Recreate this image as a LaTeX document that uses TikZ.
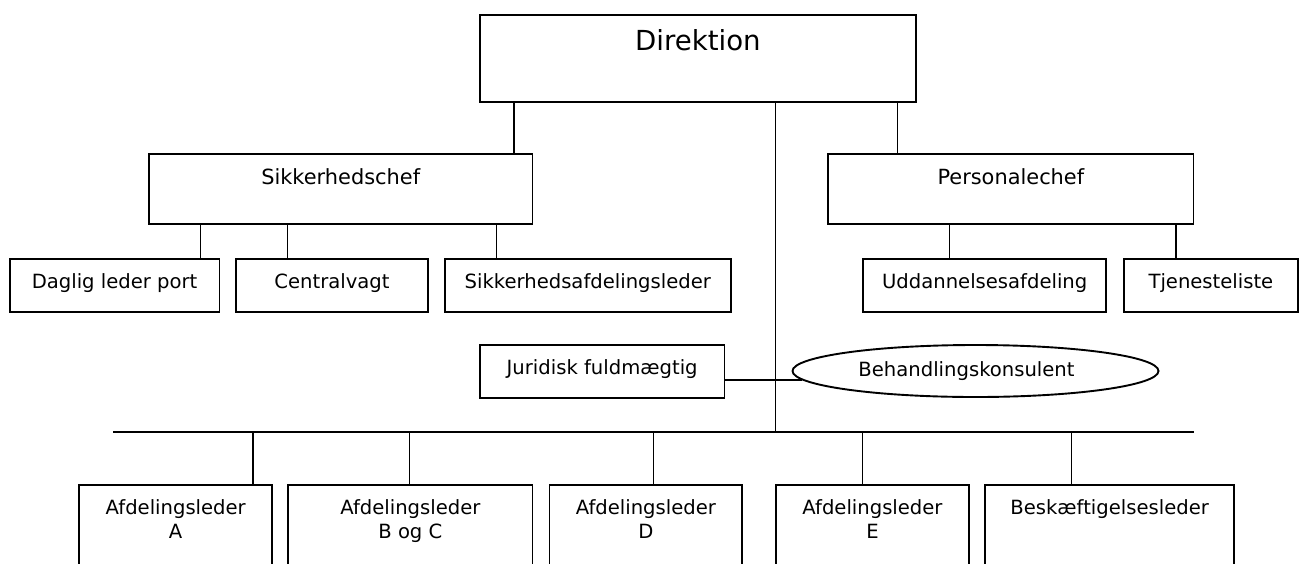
\documentclass[tikz,border=0pt]{standalone}
\usepackage{fontspec}
\setmainfont{DejaVu Sans}
\usetikzlibrary{shapes.geometric}
\newcommand{\twolines}[2]{\begin{tabular}[t]{@{}c@{}}#1\\#2\end{tabular}}

\begin{document}
\begin{tikzpicture}[x=1pt, y=-1pt,
  box/.style={draw, line width=1.9pt, inner sep=0pt, anchor=north west,
    font=\fontsize{19.6pt}{24.5pt}\selectfont, text height=29.6pt, text depth=23.4pt},
  top/.style={box, font=\fontsize{27.6pt}{33pt}\selectfont, text height=36pt, text depth=51pt},
  chief/.style={box, font=\fontsize{20.9pt}{26pt}\selectfont, text height=30pt, text depth=40pt},
  dept/.style={box, text depth=100pt},
  link/.style={line width=1.4pt},
  bus/.style={line width=2pt}]
  \useasboundingbox (0,0) rectangle (1301,563);

  \node [top, minimum width=436pt] (dir) at (479,14) {Direktion};
  \node [chief, minimum width=383.5pt] (sik) at (148,153.3) {Sikkerhedschef};
  \node [chief, minimum width=365.2pt] (pers) at (827.3,153.3) {Personalechef};

  \node [box, minimum width=209.8pt] (dlp) at (8.7,257.7) {Daglig leder port};
  \node [box, minimum width=191.9pt] (cv) at (235.1,257.7) {Centralvagt};
  \node [box, minimum width=285.7pt] (saf) at (444,257.7) {Sikkerhedsafdelingsleder};
  \node [box, minimum width=243.3pt] (udd) at (862.1,257.7) {Uddannelsesafdeling};
  \node [box, minimum width=173.5pt] (tjl) at (1123.2,257.7) {Tjenesteliste};

  \node [box, minimum width=244.6pt, text height=29pt, text depth=23.7pt] (jur) at (478.9,344.3) {Juridisk fuldmægtig};
  \node [draw, ellipse, line width=1.9pt, inner sep=0pt, minimum width=366pt, minimum height=52pt,
    font=\fontsize{19.6pt}{24.5pt}\selectfont] (beh) at (975.5,371) {Behandlingskonsulent\hspace*{18pt}};

  \node [dept, minimum width=192.7pt] (afa) at (78.4,483.7) {\twolines{Afdelingsleder}{A}};
  \node [dept, minimum width=244.2pt] (afbc) at (287.3,483.7) {\twolines{Afdelingsleder}{B og C}};
  \node [dept, minimum width=192.8pt] (afd) at (548.5,483.7) {\twolines{Afdelingsleder}{D}};
  \node [dept, minimum width=192.2pt] (afe) at (775.4,483.7) {\twolines{Afdelingsleder}{E}};
  \node [dept, minimum width=249pt] (besk) at (984.2,483.7) {Beskæftigelsesleder};

  % Direktion
  \draw [link] (dir.south -| 514.1,0) -- (sik.north -| 514.1,0);
  \draw [link] (dir.south -| 897.4,0) -- (pers.north -| 897.4,0);
  \coordinate (hub) at (775.4,431.7);
  \draw [link] (dir.south -| hub) -- (hub);

  % Sikkerhedschef and Personalechef
  \draw [link] (sik.south -| 200.7,0) -- (dlp.north -| 200.7,0);
  \draw [link] (sik.south -| 287.3,0) -- (cv.north -| 287.3,0);
  \draw [link] (sik.south -| 496.7,0) -- (saf.north -| 496.7,0);
  \draw [link] (pers.south -| 949.3,0) -- (udd.north -| 949.3,0);
  \draw [link] (pers.south -| 1176,0) -- (tjl.north -| 1176,0);

  \draw [link] (beh.183) -- (beh.183 -| jur.east);

  % bus to the departments
  \coordinate (busl) at (113.2,431.7);
  \coordinate (busr) at (1193.8,431.7);
  \draw [bus] (busl) -- (busr);
  \draw [link] (hub -| 252.9,0) -- (afa.north -| 252.9,0);
  \draw [link] (hub -| 409.5,0) -- (afbc.north -| 409.5,0);
  \draw [link] (hub -| 653.3,0) -- (afd.north -| 653.3,0);
  \draw [link] (hub -| 862.4,0) -- (afe.north -| 862.4,0);
  \draw [link] (hub -| 1071.3,0) -- (besk.north -| 1071.3,0);
\end{tikzpicture}
\end{document}
